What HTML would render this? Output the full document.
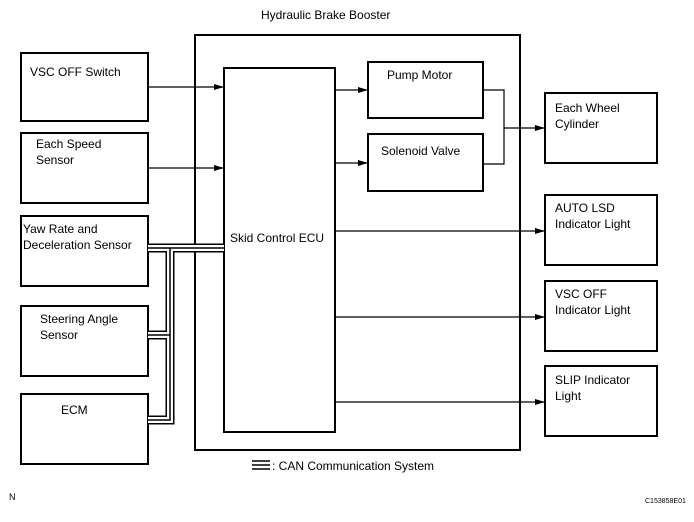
<!DOCTYPE html>
<html><head><meta charset="utf-8"><style>
html,body{margin:0;padding:0;background:#fff;}
svg{display:block;font-family:"Liberation Sans",Arial,sans-serif;}
text{font-size:12px;fill:#000;}
</style></head><body>
<svg width="694" height="522" viewBox="0 0 694 522" xmlns="http://www.w3.org/2000/svg">
<defs><marker id="a" markerWidth="10" markerHeight="6" refX="10" refY="3" orient="auto" markerUnits="userSpaceOnUse"><path d="M0,0 L10,3 L0,6 z" fill="#000"/></marker></defs>
<g fill="none" stroke="#000" stroke-width="2">
<rect x="195" y="35" width="325" height="415"/>
<rect x="21" y="53" width="127" height="68"/>
<rect x="21" y="133" width="127" height="70"/>
<rect x="21" y="216" width="127" height="70"/>
<rect x="21" y="306" width="127" height="70"/>
<rect x="21" y="394" width="127" height="70"/>
<rect x="224" y="68" width="111" height="364"/>
<rect x="368" y="62" width="115" height="56"/>
<rect x="368" y="134" width="115" height="57"/>
<rect x="545" y="93" width="112" height="70"/>
<rect x="545" y="195" width="112" height="70"/>
<rect x="545" y="281" width="112" height="70"/>
<rect x="545" y="366" width="112" height="70"/>
</g>
<g fill="none" stroke="#000" stroke-width="1.2">
<line x1="148" y1="87" x2="224" y2="87" marker-end="url(#a)"/>
<line x1="148" y1="168" x2="224" y2="168" marker-end="url(#a)"/>
<line x1="335" y1="90" x2="368" y2="90" marker-end="url(#a)"/>
<line x1="335" y1="163" x2="368" y2="163" marker-end="url(#a)"/>
<polyline points="483,90 504,90 504,164 483,164"/>
<line x1="504" y1="128" x2="545" y2="128" marker-end="url(#a)"/>
<line x1="335" y1="231" x2="545" y2="231" marker-end="url(#a)"/>
<line x1="335" y1="317" x2="545" y2="317" marker-end="url(#a)"/>
<line x1="335" y1="402" x2="545" y2="402" marker-end="url(#a)"/>
</g>
<g fill="none" stroke-linejoin="miter">
<path d="M224,248 H170 V420 H148 M170,248 H148 M170,335 H148" stroke="#000" stroke-width="9"/>
<path d="M224,248 H170 V420 H148 M170,248 H148 M170,335 H148" stroke="#fff" stroke-width="6"/>
<path d="M224,248 H170 V420 H148 M170,248 H148 M170,335 H148" stroke="#000" stroke-width="1.5"/>
</g>
<text x="261" y="19">Hydraulic Brake Booster</text>
<text x="30" y="76">VSC OFF Switch</text>
<text x="36" y="148">Each Speed</text>
<text x="36" y="164">Sensor</text>
<text x="23" y="233">Yaw Rate and</text>
<text x="23" y="249">Deceleration Sensor</text>
<text x="40" y="323">Steering Angle</text>
<text x="40" y="339">Sensor</text>
<text x="61" y="414">ECM</text>
<text x="230" y="242">Skid Control ECU</text>
<text x="387" y="79">Pump Motor</text>
<text x="381" y="155">Solenoid Valve</text>
<text x="555" y="112">Each Wheel</text>
<text x="555" y="128">Cylinder</text>
<text x="555" y="212">AUTO LSD</text>
<text x="555" y="228">Indicator Light</text>
<text x="555" y="298">VSC OFF</text>
<text x="555" y="314">Indicator Light</text>
<text x="555" y="384">SLIP Indicator</text>
<text x="555" y="400">Light</text>
<g stroke="#000"><line x1="252" y1="461" x2="270" y2="461" stroke-width="1.5"/><line x1="252" y1="465" x2="270" y2="465" stroke-width="1.5"/><line x1="252" y1="469" x2="270" y2="469" stroke-width="1.5"/></g>
<text x="272" y="470">:  CAN  Communication System</text>
<text x="9" y="500" style="font-size:9px">N</text>
<text x="645" y="503" style="font-size:7px">C153858E01</text>
</svg>
</body></html>
